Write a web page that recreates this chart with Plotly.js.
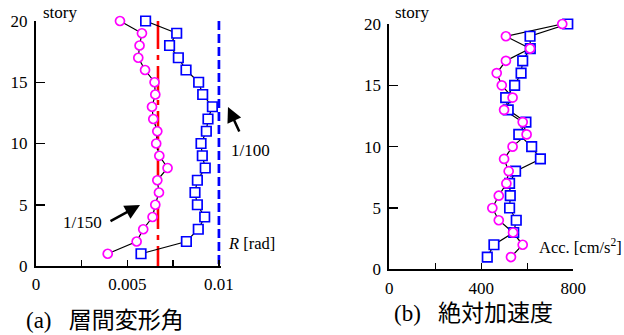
<!DOCTYPE html>
<html>
<head>
<meta charset="utf-8">
<script src="https://cdn.plot.ly/plotly-3.0.1.min.js"></script>
<style>html,body{margin:0;padding:0;background:#fff;}#chart{width:624px;height:335px;}</style>
</head>
<body>
<div id="chart"></div>
<script>
// ---- data ----
const stories = [1,2,3,4,5,6,7,8,9,10,11,12,13,14,15,16,17,18,19,20];
const driftCircle = [0.00392,0.00550,0.00586,0.00637,0.00652,0.00672,0.00663,0.00719,0.00674,0.00657,
                     0.00663,0.00641,0.00634,0.00652,0.00648,0.00596,0.00559,0.00566,0.00579,0.00459];
const driftSquare = [0.00574,0.00822,0.00887,0.00922,0.00882,0.00869,0.00882,0.00925,0.00909,0.00902,
                     0.00931,0.00940,0.00964,0.00911,0.00889,0.00820,0.00778,0.00730,0.00769,0.00599];
const accCircle = [529,580,538,476,448,476,509,519,499,536,597,580,499,536,489,467,507,612,507,752];
const accSquare = [426,455,541,552,523,526,523,549,657,619,563,594,517,506,545,573,580,613,612,776];
const limit150 = 1/150;
const limit100 = 1/100;
const refStory = [20, 0];
const driftTickVals = [0,0.005,0.01];
const driftTickText = ['0','0.005','0.01'];
const driftMinorVals = [0.0025,0.0075];
const accTickVals = [0,400,800];
const accTickText = ['0','400','800'];
const accMinorVals = [200,600];
const storyTicks = [0,5,10,15,20];

// ---- styling ----
const W = 624, H = 335;
const px = x => x / W;
const py = y => 1 - y / H;
const SERIF = '"Liberation Serif", "Times New Roman", Times, serif';
const JP = '"Liberation Serif", "Noto Sans CJK JP", serif';
const MAG = '#ff00ff', BLU = '#0000ff';

function lineTrace(x, y, xa, ya) {
  return {x: x, y: y, xaxis: xa, yaxis: ya, mode: 'lines', cliponaxis: false,
          line: {color: '#000', width: 1.2}, hoverinfo: 'skip', showlegend: false};
}
function markTrace(x, y, xa, ya, sym, col, size) {
  return {x: x, y: y, xaxis: xa, yaxis: ya, mode: 'markers', cliponaxis: false,
          marker: {symbol: sym, size: size, color: '#fff', line: {color: col, width: 1.7}},
          showlegend: false};
}

const traces = [
  {x: [limit150, limit150], y: refStory, xaxis: 'x', yaxis: 'y', mode: 'lines', cliponaxis: false,
   line: {color: '#ff0000', width: 2.6, dash: '28px,6px,5px,6px'}, showlegend: false},
  {x: [limit100, limit100], y: refStory, xaxis: 'x', yaxis: 'y', mode: 'lines', cliponaxis: false,
   line: {color: BLU, width: 2.8, dash: '9px,4px'}, showlegend: false},
  lineTrace(driftSquare, stories, 'x', 'y'),
  lineTrace(driftCircle, stories, 'x', 'y'),
  lineTrace(accSquare, stories, 'x2', 'y2'),
  lineTrace(accCircle, stories, 'x2', 'y2'),
  markTrace(driftSquare, stories, 'x', 'y', 'square', BLU, 9.5),
  markTrace(driftCircle, stories, 'x', 'y', 'circle', MAG, 9),
  markTrace(accSquare, stories, 'x2', 'y2', 'square', BLU, 9.5),
  markTrace(accCircle, stories, 'x2', 'y2', 'circle', MAG, 9)
];

const axBase = {showgrid: false, zeroline: false, showline: true, linecolor: '#000', linewidth: 2,
                ticks: 'inside', tickcolor: '#000', tickwidth: 1.5, fixedrange: true,
                tickfont: {family: SERIF, size: 17, color: '#000'}};
const minorX = vals => ({tickmode: 'array', tickvals: vals, ticks: 'inside', ticklen: 6,
                         tickcolor: '#000', tickwidth: 1.5, showgrid: false});

const layout = {
  width: W, height: H,
  margin: {l: 0, r: 0, t: 0, b: 0},
  paper_bgcolor: '#fff', plot_bgcolor: 'rgba(0,0,0,0)',
  font: {family: SERIF, color: '#000'},
  showlegend: false,
  xaxis: Object.assign({}, axBase, {domain: [px(36), px(220.8)], range: [0, 0.0101], anchor: 'y',
          tickmode: 'array', tickvals: driftTickVals, ticktext: driftTickText, ticklen: 6, ticklabelstandoff: 2,
          minor: minorX(driftMinorVals)}),
  yaxis: Object.assign({}, axBase, {domain: [py(266), py(21)], range: [0, 20], anchor: 'x',
          tickmode: 'array', tickvals: storyTicks, ticklen: 9, ticklabelstandoff: 3}),
  xaxis2: Object.assign({}, axBase, {domain: [px(389.3), px(573.3)], range: [0, 800], anchor: 'y2',
          tickmode: 'array', tickvals: accTickVals, ticktext: accTickText, ticklen: 6, ticklabelstandoff: 2,
          minor: minorX(accMinorVals)}),
  yaxis2: Object.assign({}, axBase, {domain: [py(269.3), py(24)], range: [0, 20], anchor: 'x2',
          tickmode: 'array', tickvals: storyTicks, ticklen: 9, ticklabelstandoff: 3}),
  annotations: [
    {text: 'story', xref: 'paper', yref: 'paper', x: px(41), y: py(12), xanchor: 'left', yanchor: 'middle',
     showarrow: false, font: {family: SERIF, size: 17, color: '#000'}},
    {text: 'story', xref: 'paper', yref: 'paper', x: px(393), y: py(13), xanchor: 'left', yanchor: 'middle',
     showarrow: false, font: {family: SERIF, size: 17, color: '#000'}},
    {text: '1/100', xref: 'paper', yref: 'paper', x: px(229), y: py(150), xanchor: 'left', yanchor: 'middle',
     showarrow: false, font: {family: SERIF, size: 17, color: '#000'}},
    {text: '1/150', xref: 'paper', yref: 'paper', x: px(61), y: py(222), xanchor: 'left', yanchor: 'middle',
     showarrow: false, font: {family: SERIF, size: 17, color: '#000'}},
    {text: '<i>R</i> [rad]', xref: 'paper', yref: 'paper', x: px(226), y: py(243), xanchor: 'left', yanchor: 'middle',
     showarrow: false, font: {family: SERIF, size: 16.5, color: '#000'}},
    {text: 'Acc. [cm/s<sup>2</sup>]', xref: 'paper', yref: 'paper', x: px(537), y: py(247), xanchor: 'left', yanchor: 'middle',
     showarrow: false, font: {family: SERIF, size: 16.5, color: '#000'}},
    {text: '(a)\u2002 層間変形角', xref: 'paper', yref: 'paper', x: px(24), y: py(320), xanchor: 'left', yanchor: 'middle',
     showarrow: false, font: {family: JP, size: 23, color: '#000'}},
    {text: '(b)\u2002 絶対加速度', xref: 'paper', yref: 'paper', x: px(392), y: py(313), xanchor: 'left', yanchor: 'middle',
     showarrow: false, font: {family: JP, size: 23, color: '#000'}},
    {text: '', xref: 'paper', yref: 'paper', x: px(228), y: py(107), ax: 12, ay: 26,
     showarrow: true, arrowhead: 2, arrowsize: 1.2, arrowwidth: 2.5, arrowcolor: '#000'},
    {text: '', xref: 'paper', yref: 'paper', x: px(140), y: py(205), ax: -31, ay: 17,
     showarrow: true, arrowhead: 2, arrowsize: 1.2, arrowwidth: 2.5, arrowcolor: '#000'}
  ]
};

Plotly.newPlot('chart', traces, layout, {displayModeBar: false, staticPlot: true});
</script>
</body>
</html>
